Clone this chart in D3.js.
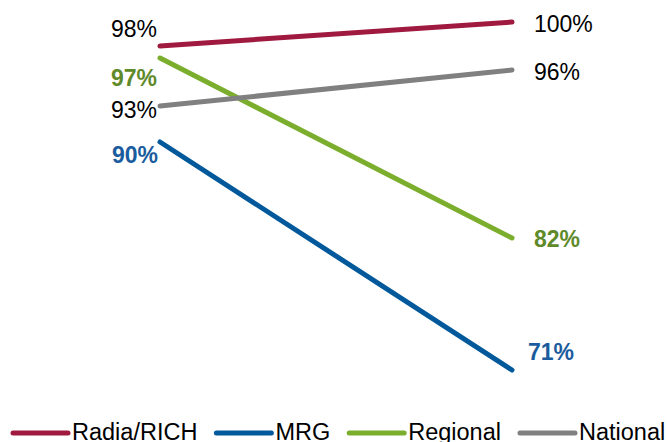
<!DOCTYPE html>
<html>
<head>
<meta charset="utf-8">
<script src="https://cdn.jsdelivr.net/npm/d3@7"></script>
<style>
  html, body { margin: 0; padding: 0; background: #fff; }
  svg { display: block; font-family: "Liberation Sans", Arial, sans-serif; }
</style>
</head>
<body>
<svg id="chart" width="667" height="442"></svg>
<script>
// Two time points, four series
const periods = ["Start", "End"];
const seriesNames = ["Radia/RICH", "MRG", "Regional", "National"];
const radiaValues = [98, 100];
const mrgValues = [90, 71];
const regionalValues = [97, 82];
const nationalValues = [93, 96];

const lineColors = ["#A01A40", "#01589A", "#7CAE2E", "#808080"];
const labelColors = ["#000000", "#1A5C9E", "#5F8A2A", "#000000"];
const labelBold = [false, true, true, false];

const series = seriesNames.map((name, i) => ({
  name,
  values: [radiaValues, mrgValues, regionalValues, nationalValues][i],
  color: lineColors[i],
  labelColor: labelColors[i],
  bold: labelBold[i]
}));

// label placement tweaks (dx, dy relative to line end)
const leftLabelOffset = { "Radia/RICH": [0, -9], "MRG": [1, 21], "Regional": [0, 28], "National": [0, 12] };
const rightLabelOffset = { "Radia/RICH": [0, 10], "MRG": [-6, -10], "Regional": [0, 9], "National": [0, 10] };

const svg = d3.select("#chart");

const x = d3.scalePoint().domain(periods).range([160, 512]);
const y = d3.scaleLinear().domain([70, 100]).range([382, 22]);

const line = d3.line()
  .x((d, i) => x(periods[i]))
  .y(d => y(d));

const g = svg.append("g");
g.selectAll("path.series")
  .data(series)
  .join("path")
  .attr("class", "series")
  .attr("d", d => line(d.values))
  .attr("fill", "none")
  .attr("stroke", d => d.color)
  .attr("stroke-width", 5)
  .attr("stroke-linecap", "round");

// left value labels
g.selectAll("text.left")
  .data(series)
  .join("text")
  .attr("class", "left")
  .attr("x", d => x(periods[0]) - 3 + leftLabelOffset[d.name][0])
  .attr("y", d => y(d.values[0]) + leftLabelOffset[d.name][1])
  .attr("text-anchor", "end")
  .attr("font-size", 23)
  .attr("font-weight", d => d.bold ? "bold" : "normal")
  .attr("fill", d => d.labelColor)
  .text(d => d.values[0] + "%");

// right value labels
g.selectAll("text.right")
  .data(series)
  .join("text")
  .attr("class", "right")
  .attr("x", d => x(periods[1]) + 22 + rightLabelOffset[d.name][0])
  .attr("y", d => y(d.values[1]) + rightLabelOffset[d.name][1])
  .attr("text-anchor", "start")
  .attr("font-size", 23)
  .attr("font-weight", d => d.bold ? "bold" : "normal")
  .attr("fill", d => d.labelColor)
  .text(d => d.values[1] + "%");

// legend along the bottom edge
const legend = svg.append("g");
let lx = 13;
series.forEach(s => {
  legend.append("line")
    .attr("x1", lx).attr("x2", lx + 55)
    .attr("y1", 433).attr("y2", 433)
    .attr("stroke", s.color)
    .attr("stroke-width", 5)
    .attr("stroke-linecap", "round");
  const t = legend.append("text")
    .attr("x", lx + 59)
    .attr("y", 440)
    .attr("font-size", 23.5)
    .attr("fill", "#000")
    .text(s.name);
  lx = lx + 59 + t.node().getComputedTextLength() + 19;
});
</script>
</body>
</html>
